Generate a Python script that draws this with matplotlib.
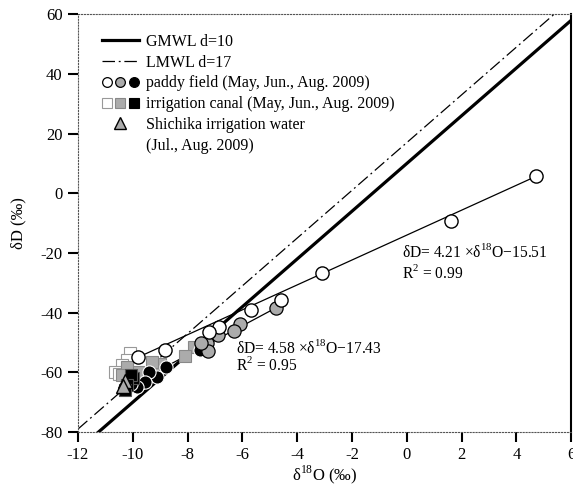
import matplotlib
matplotlib.use('Agg')
import matplotlib.pyplot as plt
from matplotlib.lines import Line2D
from matplotlib.legend_handler import HandlerTuple
import numpy as np

plt.rcParams['font.family'] = ['Liberation Serif', 'DejaVu Serif']
plt.rcParams['mathtext.fontset'] = 'custom'
plt.rcParams['mathtext.rm'] = 'Liberation Serif'
plt.rcParams['axes.unicode_minus'] = False

# paddy field (May, Jun., Aug. 2009)
paddy_may_x = [4.73, 1.6, -3.09, -4.58, -5.7, -6.84, -7.2, -8.84, -9.8]
paddy_may_y = [5.75, -9.3, -26.7, -35.8, -39.1, -44.8, -46.5, -52.5, -54.9]
paddy_jun_x = [-4.76, -6.07, -6.3, -6.9, -7.3, -7.25, -7.5]
paddy_jun_y = [-38.3, -43.8, -46.0, -47.6, -50.2, -52.9, -50.0]
paddy_aug_x = [-7.55, -8.8, -9.1, -9.4, -9.55, -9.85, -10.05]
paddy_aug_y = [-52.6, -58.3, -61.5, -59.8, -63.2, -65.0, -63.8]

# irrigation canal (May, Jun., Aug. 2009)
canal_may_x = [-10.1, -10.2, -10.4, -10.65, -10.5]
canal_may_y = [-53.6, -56.0, -57.5, -59.9, -60.5]
canal_jun_x = [-7.78, -8.1, -9.0, -9.3, -9.8, -10.2, -10.4]
canal_jun_y = [-51.5, -54.5, -57.2, -56.5, -59.9, -58.2, -61.0]
canal_aug_x = [-10.0, -10.07, -10.2, -10.3]
canal_aug_y = [-62.0, -61.0, -64.2, -65.8]

# Shichika irrigation water
shichika_x = [-10.3, -10.35]
shichika_y = [-62.8, -64.5]

# regression lines (end points)
fit1_x = [-9.8, 4.73]
fit1_y = [-54.9, 5.75]
fit2_x = [-9.9, -4.76]
fit2_y = [-63.5, -38.3]

# meteoric water lines: dD = 8 d18O + d
mwl_x = np.array([-12, 6])
gmwl_d = 10
lmwl_d = 17

fig = plt.figure(figsize=(5.73, 4.91), dpi=100)
ax = fig.add_axes([0.136, 0.12, 0.861, 0.851])

dashdot = (0, (10, 3, 1.5, 3))
ax.plot(mwl_x, 8 * mwl_x + gmwl_d, color='black', lw=2.3, zorder=2)
ax.plot(mwl_x, 8 * mwl_x + lmwl_d, color='black', lw=0.9,
        linestyle=dashdot, zorder=2)
ax.plot(fit1_x, fit1_y, color='black', lw=0.9, zorder=2)
ax.plot(fit2_x, fit2_y, color='black', lw=0.9, zorder=2)

ms_c = 9.5
ms_s = 8
gray = '#ababab'
ax.plot(canal_may_x, canal_may_y, 's', ms=ms_s, mfc='white', mec='#999999', mew=0.8, zorder=3)
ax.plot(canal_jun_x, canal_jun_y, 's', ms=ms_s, mfc=gray, mec='#888888', mew=0.8, zorder=3)
ax.plot(paddy_aug_x, paddy_aug_y, 'o', ms=ms_c, mfc='black', mec='white', mew=0.8, zorder=4)
ax.plot(canal_aug_x, canal_aug_y, 's', ms=ms_s, mfc='black', mec='#555555', mew=0.8, zorder=4)
ax.plot(shichika_x, shichika_y, '^', ms=ms_c, mfc=gray, mec='black', mew=1.0, zorder=5)
ax.plot(paddy_jun_x, paddy_jun_y, 'o', ms=ms_c, mfc=gray, mec='black', mew=0.9, zorder=4)
ax.plot(paddy_may_x, paddy_may_y, 'o', ms=ms_c, mfc='white', mec='black', mew=1.0, zorder=4)

eq_fs = 11.2
ax.text(-0.18, -19.7, r'δD= 4.21 ×δ$^{18}$O−15.51', fontsize=eq_fs, va='center')
ax.text(-0.18, -26.8, r'R$^2$ = 0.99', fontsize=eq_fs, va='center')
ax.text(-6.22, -51.7, r'δD= 4.58 ×δ$^{18}$O−17.43', fontsize=eq_fs, va='center')
ax.text(-6.22, -57.4, r'R$^2$ = 0.95', fontsize=eq_fs, va='center')

ax.set_xlim(-12, 6)
ax.set_ylim(-80, 60)
ax.set_xticks(np.arange(-12, 7, 2))
ax.set_yticks(np.arange(-80, 61, 20))
ax.tick_params(direction='out', length=7, width=1.5, labelsize=12, pad=4)
for side in ['top', 'bottom', 'left']:
    ax.spines[side].set_linestyle(':')
    ax.spines[side].set_linewidth(0.8)
    ax.spines[side].set_color('#555555')
ax.spines['right'].set_linewidth(1.5)

ax.set_xlabel(r'δ$^{18}$O (‰)', fontsize=12, labelpad=0)
ax.set_ylabel('δD (‰)', fontsize=12, labelpad=10)

# legend
h_g = Line2D([], [], color='black', lw=2.3)
h_l = Line2D([], [], color='black', lw=0.9, linestyle=dashdot)
lc = dict(ls='none', marker='o', ms=7, mew=0.9, mec='black')
h_p = (Line2D([], [], mfc='white', **lc), Line2D([], [], mfc=gray, **lc),
       Line2D([], [], mfc='black', **lc))
ls_ = dict(ls='none', marker='s', ms=7, mew=0.8)
h_c = (Line2D([], [], mfc='white', mec='#999999', **ls_),
       Line2D([], [], mfc=gray, mec='#888888', **ls_),
       Line2D([], [], mfc='black', mec='black', **ls_))
h_s = Line2D([], [], ls='none', marker='^', ms=8, mfc=gray, mec='black', mew=1.0)
h_blank = Line2D([], [], ls='none')
ax.legend([h_g, h_l, h_p, h_c, h_s, h_blank],
          ['GMWL d=10', 'LMWL d=17', 'paddy field (May, Jun., Aug. 2009)',
           'irrigation canal (May, Jun., Aug. 2009)',
           'Shichika irrigation water', '(Jul., Aug. 2009)'],
          handler_map={tuple: HandlerTuple(ndivide=None, pad=0.2)},
          loc='upper left', bbox_to_anchor=(0.026, 0.98), frameon=False,
          fontsize=11.5, handlelength=2.3, handletextpad=0.45,
          labelspacing=0.3, borderpad=0.2)

fig.savefig('out.png', dpi=100)
